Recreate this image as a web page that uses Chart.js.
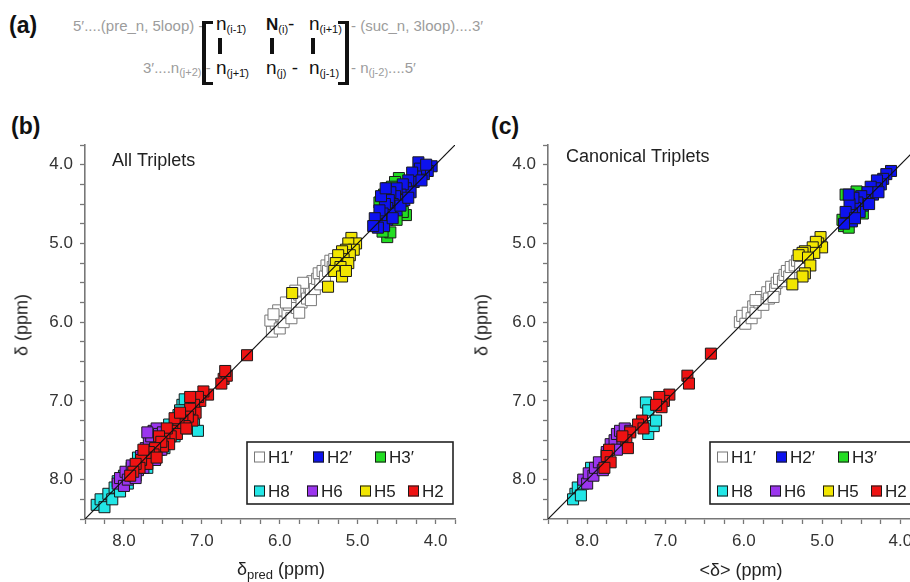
<!DOCTYPE html>
<html>
<head>
<meta charset="utf-8">
<script src="https://cdn.jsdelivr.net/npm/chart.js@4.4.1/dist/chart.umd.min.js"></script>
<style>
  body { margin: 0; background: #fff; }
  #fig { position: relative; width: 910px; height: 582px; overflow: hidden; font-family: "Liberation Sans", Arial, sans-serif; }
  .lab { position: absolute; font-weight: bold; font-size: 23px; color: #111; line-height: 26px; }
  .grey { position: absolute; font-size: 15px; color: #9c9c9c; line-height: 18px; white-space: nowrap; }
  .grey sub { font-size: 11px; vertical-align: -3px; }
  .mx { position: absolute; font-size: 19px; color: #111; line-height: 20px; white-space: nowrap; }
  .mx sub { font-size: 11px; vertical-align: -3px; }
  .bar { position: absolute; width: 4px; height: 16px; background: #111; }
  .brk { position: absolute; width: 7px; height: 58px; border: 0 solid #111; }
  .ytitle { position: absolute; top: 325px; font-size: 18px; color: #222; white-space: nowrap; transform: translate(-50%, -50%) rotate(-90deg); }
  .xtitle { position: absolute; top: 570px; font-size: 18px; color: #222; white-space: nowrap; transform: translate(-50%, -50%); }
  .xtitle sub { font-size: 13px; vertical-align: -4px; }
  canvas { position: absolute; top: 100px; }
</style>
</head>
<body>
<div id="fig">
  <div class="lab" style="left:9px;top:12px">(a)</div>
  <div class="grey" style="left:73px;top:17px">5′....(pre_n, 5loop) -</div>
  <div class="grey" style="left:351px;top:17px">- (suc_n, 3loop)....3′</div>
  <div class="grey" style="left:143px;top:59px">3′....n<sub>(j+2)</sub> -</div>
  <div class="grey" style="left:351px;top:59px">- n<sub>(j-2)</sub>....5′</div>
  <div class="brk" style="left:202px;top:21px;border-width:3px 0 3px 4px"></div>
  <div class="brk" style="left:338px;top:21px;border-width:3px 4px 3px 0"></div>
  <div class="mx" style="left:216px;top:14px">n<sub>(i-1̄)</sub></div>
  <div class="mx" style="left:266px;top:14px"><b style="font-size:17px">N</b><sub>(i)</sub>-</div>
  <div class="mx" style="left:309px;top:14px">n<sub>(i+1)</sub></div>
  <div class="bar" style="left:218px;top:38px"></div>
  <div class="bar" style="left:270px;top:38px"></div>
  <div class="bar" style="left:311px;top:38px"></div>
  <div class="mx" style="left:216px;top:58px">n<sub>(j+1̄)</sub></div>
  <div class="mx" style="left:266px;top:58px">n<sub>(j)</sub> -</div>
  <div class="mx" style="left:309px;top:58px">n<sub>(j-1)</sub></div>

  <div class="lab" style="left:11px;top:113px">(b)</div>
  <div class="lab" style="left:491px;top:113px">(c)</div>
  <canvas id="allChart" width="470" height="482" style="left:0"></canvas>
  <canvas id="canonChart" width="470" height="482" style="left:460px"></canvas>
  <div class="ytitle" style="left:22px">δ (ppm)</div>
  <div class="ytitle" style="left:482px">δ (ppm)</div>
  <div class="xtitle" style="left:281px">δ<sub>pred</sub> (ppm)</div>
  <div class="xtitle" style="left:741px">&lt;δ&gt; (ppm)</div>
</div>
<script>
// proton types, in legend order
const protons = ["H1′", "H2′", "H3′", "H8", "H6", "H5", "H2"];
const fills = ["#ffffff", "#0d12ee", "#22dd22", "#22e6e6", "#9b35ee", "#f2e600", "#ee1212"];
const edges = ["#777777", "#1a1a1a", "#1a1a1a", "#1a1a1a", "#1a1a1a", "#1a1a1a", "#1a1a1a"];
// which series sits on top (lower = drawn later)
const stacking = [7, 2, 6, 5, 4, 3, 1];
const axisRange = [3.75, 8.5];

// (b) all triplets: [predicted, observed] in ppm
const allH1p = [[6.10,6.12],[6.05,6.02],[6.12,5.98],[6.00,6.08],[5.98,5.92],[5.95,6.00],[6.02,5.85],[5.90,5.88],[5.88,5.78],[5.85,5.95],[5.82,5.70],[5.78,5.82],[5.75,5.65],[5.72,5.75],[5.68,5.58],[5.65,5.70],[5.62,5.55],[5.60,5.62],[5.58,5.48],[5.55,5.58],[5.52,5.45],[5.50,5.38],[5.48,5.52],[5.45,5.35],[5.42,5.42],[5.40,5.28],[5.38,5.35],[5.35,5.22],[5.32,5.30],[5.30,5.20],[5.70,5.50],[5.80,5.60],[5.92,5.75],[6.08,5.90],[5.60,5.72],[5.75,5.88]];
const allH2p = [[4.05,4.02],[4.22,3.97],[4.10,4.08],[4.15,4.12],[4.20,4.05],[4.25,4.15],[4.30,4.10],[4.28,4.22],[4.35,4.20],[4.38,4.30],[4.32,4.35],[4.42,4.25],[4.45,4.38],[4.40,4.45],[4.50,4.30],[4.48,4.45],[4.52,4.40],[4.55,4.50],[4.50,4.58],[4.58,4.35],[4.60,4.45],[4.62,4.55],[4.58,4.62],[4.65,4.50],[4.68,4.62],[4.62,4.70],[4.70,4.70],[4.72,4.58],[4.75,4.75],[4.78,4.68],[4.66,4.78],[4.55,4.68],[4.45,4.52],[4.35,4.42],[4.18,4.20],[4.12,4.00],[4.70,4.40],[4.64,4.30],[4.74,4.80],[4.80,4.78]];
const allH3p = [[4.47,4.17],[4.52,4.22],[4.62,4.30],[4.66,4.38],[4.56,4.28],[4.62,4.92],[4.58,4.86],[4.38,4.64],[4.42,4.60],[4.68,4.85],[4.50,4.70],[4.72,4.48]];
const allH8 = [[8.35,8.32],[8.30,8.25],[8.25,8.35],[8.20,8.18],[8.15,8.25],[8.12,8.10],[8.08,8.02],[8.05,8.15],[8.00,7.95],[7.95,8.05],[7.90,7.85],[7.85,7.95],[7.82,7.72],[7.70,7.85],[7.60,7.70],[7.55,7.62],[7.48,7.60],[7.42,7.30],[7.35,7.45],[7.30,7.18],[7.25,7.05],[7.22,6.98],[7.18,7.35],[7.10,7.30],[7.05,7.38],[7.15,7.20],[7.28,7.12],[7.65,7.55]];
const allH6 = [[8.08,8.05],[8.05,7.98],[8.00,8.08],[7.98,7.90],[7.95,8.00],[7.90,7.82],[7.88,7.95],[7.82,7.88],[7.78,7.70],[7.72,7.60],[7.68,7.52],[7.65,7.45],[7.62,7.38],[7.58,7.35],[7.55,7.42],[7.50,7.40],[7.52,7.62],[7.60,7.75],[7.75,7.85],[7.85,7.98],[7.70,7.40]];
const allH5 = [[5.08,4.93],[5.02,5.00],[5.12,5.00],[5.05,5.08],[5.15,5.08],[5.10,5.15],[5.20,5.10],[5.18,5.20],[5.25,5.15],[5.28,5.25],[5.12,5.25],[5.22,5.30],[5.30,5.35],[5.20,5.42],[5.15,5.35],[5.84,5.63],[5.38,5.55]];
const allH2 = [[6.72,6.72],[6.68,6.68],[6.75,6.78],[6.70,6.62],[6.42,6.42],[6.92,6.92],[6.98,6.88],[7.02,7.00],[7.05,6.95],[7.10,7.05],[7.08,7.15],[7.15,7.10],[7.12,7.25],[7.18,7.20],[7.25,7.25],[7.22,7.32],[7.30,7.30],[7.35,7.22],[7.38,7.38],[7.32,7.42],[7.40,7.45],[7.45,7.35],[7.48,7.48],[7.42,7.55],[7.50,7.58],[7.55,7.45],[7.52,7.52],[7.60,7.60],[7.62,7.68],[7.68,7.65],[7.72,7.72],[7.70,7.80],[7.78,7.75],[7.80,7.85],[7.85,7.80],[7.88,7.90],[7.92,7.95],[7.75,7.62],[7.58,7.72],[7.28,7.15],[7.20,7.35],[7.15,6.95]];

// (c) canonical triplets
const canH1p = [[6.05,6.00],[6.02,5.92],[5.98,6.02],[5.95,5.88],[5.90,5.95],[5.88,5.80],[5.85,5.88],[5.80,5.75],[5.78,5.68],[5.75,5.78],[5.70,5.62],[5.68,5.70],[5.65,5.55],[5.60,5.58],[5.58,5.50],[5.55,5.45],[5.50,5.48],[5.48,5.40],[5.45,5.35],[5.42,5.42],[5.40,5.30],[5.35,5.28],[5.32,5.22],[5.28,5.30],[5.62,5.68],[5.85,5.72]];
const canH2p = [[4.12,4.08],[4.18,4.12],[4.22,4.18],[4.25,4.25],[4.30,4.20],[4.32,4.30],[4.38,4.28],[4.35,4.38],[4.42,4.35],[4.45,4.45],[4.50,4.40],[4.48,4.52],[4.55,4.48],[4.52,4.60],[4.58,4.55],[4.60,4.42],[4.62,4.62],[4.65,4.50],[4.68,4.68],[4.62,4.72],[4.70,4.60],[4.72,4.75],[4.66,4.38],[4.40,4.50],[4.28,4.35],[4.58,4.68]];
const canH3p = [[4.70,4.38],[4.74,4.70],[4.72,4.78],[4.66,4.80],[4.56,4.34],[4.48,4.62]];
const canH8 = [[8.15,8.18],[8.12,8.10],[8.18,8.25],[8.05,8.05],[7.95,7.85],[7.62,7.60],[7.25,7.02],[7.22,7.12],[7.22,7.42],[7.15,7.32],[7.12,7.25],[7.75,7.68],[8.08,8.20]];
const canH6 = [[8.05,8.00],[8.00,8.05],[7.98,7.92],[7.92,7.95],[7.90,7.85],[7.85,7.78],[7.80,7.88],[7.75,7.65],[7.70,7.55],[7.65,7.50],[7.62,7.42],[7.58,7.38],[7.55,7.48],[7.52,7.35],[7.62,7.62],[7.45,7.38]];
const canH5 = [[5.02,4.92],[5.05,5.00],[5.00,5.05],[5.08,4.98],[5.12,5.05],[5.10,5.12],[5.22,5.10],[5.25,5.12],[5.30,5.15],[5.18,5.18],[5.15,5.28],[5.22,5.38],[5.25,5.42],[5.38,5.52]];
const canH2 = [[6.42,6.40],[6.72,6.68],[6.70,6.78],[6.95,6.92],[7.02,7.00],[7.08,6.95],[7.05,7.08],[7.12,7.05],[7.30,7.25],[7.35,7.30],[7.28,7.35],[7.45,7.40],[7.50,7.50],[7.48,7.60],[7.55,7.45],[7.72,7.62],[7.75,7.70],[7.70,7.78],[7.78,7.85]];

const tickFont = { family: '"Liberation Sans", Arial, sans-serif', size: 17 };

// framed two-row key in the lower right of the plot
const boxLegend = {
  id: "boxLegend",
  afterDraw(chart) {
    const { ctx, chartArea } = chart;
    const w = 206, h = 62;
    const x0 = chartArea.left + 162, y0 = chartArea.bottom - 15 - h;
    const rows = [[0, 1, 2], [3, 4, 5, 6]];
    const cols = [[7, 66, 128], [7, 60, 113, 161]];
    ctx.save();
    ctx.fillStyle = "#fff";
    ctx.fillRect(x0, y0, w, h);
    ctx.strokeStyle = "#222";
    ctx.lineWidth = 1.6;
    ctx.strokeRect(x0, y0, w, h);
    ctx.font = '17px "Liberation Sans", Arial, sans-serif';
    ctx.textBaseline = "middle";
    rows.forEach((row, r) => {
      const y = y0 + (r ? 49 : 15);
      row.forEach((k, c) => {
        const x = x0 + cols[r][c];
        ctx.fillStyle = fills[k];
        ctx.fillRect(x, y - 5.5, 11, 11);
        ctx.strokeStyle = edges[k];
        ctx.lineWidth = 1;
        ctx.strokeRect(x + 0.5, y - 5, 10, 10);
        ctx.fillStyle = "#222";
        ctx.fillText(protons[k], x + 14, y + 1);
      });
    });
    ctx.restore();
  }
};

const cornerNote = {
  id: "cornerNote",
  afterDraw(chart, args, opts) {
    const { ctx, chartArea } = chart;
    ctx.save();
    ctx.font = '18px "Liberation Sans", Arial, sans-serif';
    ctx.fillStyle = "#222";
    ctx.textBaseline = "middle";
    ctx.fillText(opts.text, chartArea.left + opts.dx, chartArea.top + opts.dy);
    ctx.restore();
  }
};

function ppmAxis(fitWidth, fitHeight) {
  return {
    type: "linear",
    reverse: true,
    min: axisRange[0],
    max: axisRange[1],
    afterFit(scale) {
      if (fitWidth) scale.width = fitWidth;
      if (fitHeight) scale.height = fitHeight;
    },
    grid: { drawOnChartArea: false, drawTicks: true, tickLength: 5, color: "#777", tickWidth: 1.3 },
    border: { color: "#777", width: 1.6 },
    ticks: {
      stepSize: 0.25,
      autoSkip: false,
      maxRotation: 0,
      padding: 7,
      color: "#333",
      font: tickFont,
      callback: v => Math.abs(v - Math.round(v)) < 1e-6 ? Number(v).toFixed(1) : ""
    }
  };
}

function makeChart(id, series, note, yWidth, rightPad) {
  const datasets = series.map((pts, k) => ({
    type: "scatter",
    label: protons[k],
    data: pts.map(p => ({ x: p[0], y: p[1] })),
    pointStyle: "rect",
    pointRadius: 7.8,
    pointHoverRadius: 7.8,
    backgroundColor: fills[k],
    borderColor: edges[k],
    borderWidth: 1,
    order: stacking[k]
  }));
  datasets.push({
    type: "line",
    label: "y = x",
    data: axisRange.map(v => ({ x: v, y: v })),
    borderColor: "#111",
    borderWidth: 1.2,
    pointRadius: 0,
    order: 0
  });
  return new Chart(document.getElementById(id), {
    type: "scatter",
    data: { datasets },
    options: {
      responsive: false,
      animation: false,
      layout: { padding: { left: 0, right: rightPad, top: 45, bottom: 0 } },
      scales: {
        x: ppmAxis(0, 63),
        y: ppmAxis(yWidth, 0)
      },
      plugins: {
        legend: { display: false },
        tooltip: { enabled: false },
        cornerNote: note
      }
    },
    plugins: [boxLegend, cornerNote]
  });
}

makeChart("allChart", [allH1p, allH2p, allH3p, allH8, allH6, allH5, allH2],
  { text: "All Triplets", dx: 27, dy: 16 }, 85, 15);
makeChart("canonChart", [canH1p, canH2p, canH3p, canH8, canH6, canH5, canH2],
  { text: "Canonical Triplets", dx: 18, dy: 12 }, 88, 10);
</script>
</body>
</html>
